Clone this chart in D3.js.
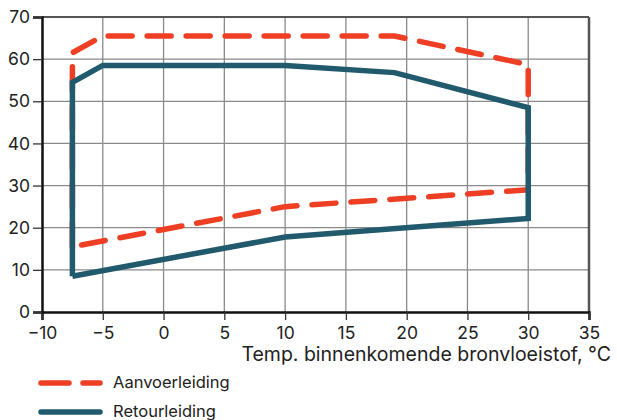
<!DOCTYPE html>
<html><head><meta charset="utf-8">
<script src="https://cdn.jsdelivr.net/npm/d3@7"></script>
<style>body{margin:0;background:#fff}svg{display:block}text{font-family:Inter,"Open Sans",sans-serif;fill:#222}</style>
</head><body>
<svg id="c" width="617" height="420"></svg>
<script>
const xTicks = [-10,-5,0,5,10,15,20,25,30,35];
const yTicks = [0,10,20,30,40,50,60,70];
const supplyX = [-7.5, -7.5, -5, 19, 30, 30, 10, -7.5];
const supplyY = [15.5, 61.5, 65.5, 65.5, 58.7, 29, 25, 15.5];
const returnX = [-7.5, -7.5, -5, 10, 19, 30, 30, 10, -7.5];
const returnY = [8.5, 54.5, 58.5, 58.5, 56.8, 48.5, 22.2, 17.8, 8.5];
const seriesNames = ["Aanvoerleiding", "Retourleiding"];
const xTitle = "Temp. binnenkomende bronvloeistof, °C";

const svg = d3.select("#c");
const L = 42, R = 589, T = 17, B = 312;
const x = d3.scaleLinear().domain([-10, 35]).range([L, R]);
const y = d3.scaleLinear().domain([0, 70]).range([B, T]);

// grid
svg.append("g").selectAll("line").data(xTicks.slice(1, -1)).join("line")
  .attr("x1", d => x(d)).attr("x2", d => x(d)).attr("y1", T).attr("y2", B)
  .attr("stroke", "#8a8a8a").attr("stroke-width", 1.3);
svg.append("g").selectAll("line").data(yTicks.slice(1, -1)).join("line")
  .attr("x1", L).attr("x2", R).attr("y1", d => y(d)).attr("y2", d => y(d))
  .attr("stroke", "#8a8a8a").attr("stroke-width", 1.3);
// frame top/right
svg.append("line").attr("x1", L).attr("x2", R).attr("y1", T).attr("y2", T).attr("stroke", "#555").attr("stroke-width", 2);
svg.append("line").attr("x1", R).attr("x2", R).attr("y1", T).attr("y2", B).attr("stroke", "#555").attr("stroke-width", 2.5);

// axes
const xAxis = svg.append("g").attr("transform", `translate(0,${B})`)
  .call(d3.axisBottom(x).tickValues(xTicks).tickSize(8).tickPadding(3).tickFormat(d => d < 0 ? "\u2212" + Math.abs(d) : d));
const yAxis = svg.append("g").attr("transform", `translate(${L},0)`)
  .call(d3.axisLeft(y).tickValues(yTicks).tickSize(9).tickPadding(3));
[xAxis, yAxis].forEach(g => {
  g.select(".domain").attr("stroke", "#111").attr("stroke-width", 2.5);
  g.selectAll(".tick line").attr("stroke", "#333").attr("stroke-width", 1.3);
  g.selectAll(".tick text").attr("font-size", 17.5).attr("font-family", "Inter, 'Open Sans', sans-serif").attr("fill", "#333");
});
xAxis.selectAll(".tick text").attr("dy", "0.9em");

// lines
const line = d3.line().x(d => x(d[0])).y(d => y(d[1]));
const retPts = returnX.map((v, i) => [v, returnY[i]]);
const supPts = supplyX.map((v, i) => [v, supplyY[i]]);
svg.append("path").attr("d", line(supPts)).attr("fill", "none")
  .attr("stroke", "#ee3f24").attr("stroke-width", 5.5).attr("stroke-dasharray", "24,15")
  .attr("stroke-linecap", "round").attr("stroke-linejoin", "round");
svg.append("path").attr("d", line(retPts)).attr("fill", "none")
  .attr("stroke", "#215a6c").attr("stroke-width", 5.5).attr("stroke-linejoin", "miter");

// x title
svg.append("text").attr("x", 611).attr("y", 361).attr("text-anchor", "end")
  .attr("font-size", 19.5).text(xTitle);

// legend
const lg = svg.append("g");
const legY = [383, 412];
lg.append("line").attr("x1", 41).attr("x2", 100).attr("y1", legY[0]).attr("y2", legY[0])
  .attr("stroke", "#ee3f24").attr("stroke-width", 5.5).attr("stroke-dasharray", "28,14").attr("stroke-linecap", "round");
lg.append("line").attr("x1", 41).attr("x2", 100).attr("y1", legY[1]).attr("y2", legY[1])
  .attr("stroke", "#215a6c").attr("stroke-width", 5.5).attr("stroke-linecap", "round");
seriesNames.forEach((n, i) => {
  lg.append("text").attr("x", 113).attr("y", legY[i] + 5).attr("font-size", 16.5).text(n);
});
</script>
</body></html>
